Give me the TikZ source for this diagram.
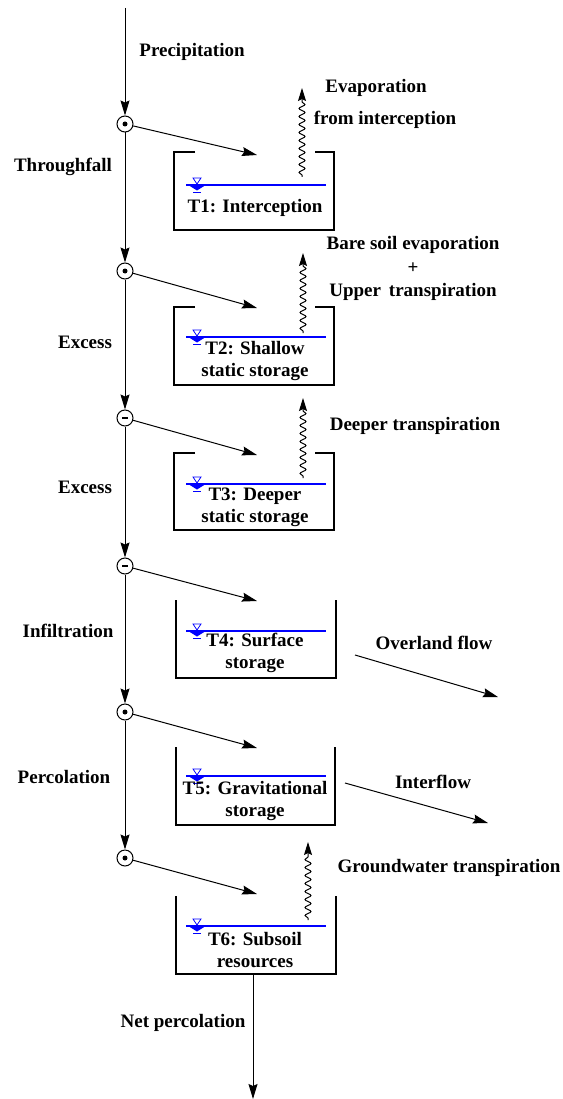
\documentclass[tikz,border=0pt]{standalone}
\usepackage{fontspec}
\setmainfont{Liberation Serif}
\usetikzlibrary{arrows.meta,decorations.pathmorphing}
\begin{document}
\begin{tikzpicture}[x=1pt,y=-1pt,
  lbl/.style={font=\fontsize{19}{22}\selectfont\bfseries, inner sep=0pt, align=center},
  arr/.style={line width=1pt, -{Stealth[length=15pt,width=9pt,inset=2pt]}},
  boxline/.style={line width=1.9pt},
  junction/.style={circle, draw, line width=1pt, minimum size=16pt, inner sep=0pt},
  water/.style={blue, line width=1.3pt},
  wavy/.style={line width=1pt, decorate, decoration={snake, amplitude=3pt, segment length=8pt, pre length=2pt, post length=12pt}, -{Stealth[length=13pt,width=8pt,inset=2pt]}}
]
\useasboundingbox (0,0) rectangle (562,1099);

% junctions
\node[junction] (c1) at (125,124) {};
\node[junction] (c2) at (125,271) {};
\node[junction] (c3) at (125,418) {};
\node[junction] (c4) at (125,566) {};
\node[junction] (c5) at (125,712) {};
\node[junction] (c6) at (125,858) {};
\foreach \c in {c1,c2,c5,c6} \fill (\c) circle (2.5pt);
\foreach \c in {c3,c4} \fill ([xshift=-3pt,yshift=-1.3pt]\c.center) rectangle ([xshift=3pt,yshift=1.3pt]\c.center);

\coordinate (top) at (125,8);
\draw[arr] (top) -- (c1.north);
\draw[arr] (c1.south) -- (c2.north);
\draw[arr] (c2.south) -- (c3.north);
\draw[arr] (c3.south) -- (c4.north);
\draw[arr] (c4.south) -- (c5.north);
\draw[arr] (c5.south) -- (c6.north);

% inflow targets
\coordinate (i1) at (257,155);
\coordinate (i2) at (257,308);
\coordinate (i3) at (257,455);
\coordinate (i4) at (257,601);
\coordinate (i5) at (257,748);
\coordinate (i6) at (257,894);
\draw[arr] (c1) -- (i1);
\draw[arr] (c2) -- (i2);
\draw[arr] (c3) -- (i3);
\draw[arr] (c4) -- (i4);
\draw[arr] (c5) -- (i5);
\draw[arr] (c6) -- (i6);

% boxes with lips (T1-T3)
\draw[boxline] (195,152) -- (174,152) -- (174,230) -- (334,230) -- (334,152) -- (315,152);
\draw[boxline] (195,307) -- (174,307) -- (174,385) -- (334,385) -- (334,307) -- (315,307);
\draw[boxline] (195,453) -- (174,453) -- (174,530) -- (334,530) -- (334,453) -- (315,453);
% open boxes (T4-T6)
\draw[boxline] (176,600) -- (176,678) -- (336,678) -- (336,600);
\draw[boxline] (176,747) -- (176,825) -- (335,825) -- (335,747);
\draw[boxline] (176,896) -- (176,974) -- (336,974) -- (336,896);

% water levels
\foreach \y in {185,337,484,631,776,926}{
  \draw[water] (186,\y) -- (326,\y);
  \draw[blue, line width=0.8pt] (193,\y-7) -- (201,\y-7) -- (197,\y-1) -- cycle;
  \fill[blue] (189,\y+0.5) -- (205,\y+0.5) -- (197,\y+5.5) -- cycle;
  \draw[blue, line width=0.8pt] (193,\y+7.5) -- (201,\y+7.5);
}

% box texts
\node[lbl] (t1) at (255,208) {T1: Interception};
\node[lbl] (t2) at (255,361) {T2: Shallow\\static storage};
\node[lbl] (t3) at (255,507) {T3: Deeper\\static storage};
\node[lbl] (t4) at (255,653) {T4: Surface\\storage};
\node[lbl] (t5) at (255,801) {T5: Gravitational\\storage};
\node[lbl] (t6) at (255,950) {T6: Subsoil\\resources};

% wavy outflows
\coordinate (w1a) at (302,177); \coordinate (w1b) at (302,88);
\coordinate (w2a) at (303,333); \coordinate (w2b) at (303,253);
\coordinate (w3a) at (303,478); \coordinate (w3b) at (303,398);
\coordinate (w6a) at (308,920); \coordinate (w6b) at (308,842);
\draw[wavy] (w1a) -- (w1b);
\draw[wavy] (w2a) -- (w2b);
\draw[wavy] (w3a) -- (w3b);
\draw[wavy] (w6a) -- (w6b);

% lateral flows
\coordinate (o1) at (355,655); \coordinate (o2) at (498,697);
\coordinate (f1) at (345,783); \coordinate (f2) at (488,823);
\draw[arr] (o1) -- (o2);
\draw[arr] (f1) -- (f2);

% net percolation
\coordinate (b6) at (253,974); \coordinate (bot) at (253,1099);
\draw[arr] (b6) -- (bot);

% labels
\node[lbl] (lp) at (192,52) {Precipitation};
\node[lbl] (lt) at (63,167) {Throughfall};
\node[lbl] (le1) at (85,342) {Excess};
\node[lbl] (le2) at (85,487) {Excess};
\node[lbl] (li) at (68,631) {Infiltration};
\node[lbl] (lpe) at (64,777) {Percolation};
\node[lbl] (lev1) at (376,88) {Evaporation};
\node[lbl] (lev2) at (385,120) {from interception};
\node[lbl] (lb1) at (413,245) {Bare soil evaporation};
\node[lbl] (lb2) at (413,268) {+};
\node[lbl] (lb3) at (413,292) {Upper\, transpiration};
\node[lbl] (ld) at (415,426) {Deeper transpiration};
\node[lbl] (lo) at (434,643) {Overland flow};
\node[lbl] (lif) at (433,782) {Interflow};
\node[lbl] (lg) at (449,868) {Groundwater transpiration};
\node[lbl] (ln) at (183,1023) {Net percolation};
\end{tikzpicture}
\end{document}
